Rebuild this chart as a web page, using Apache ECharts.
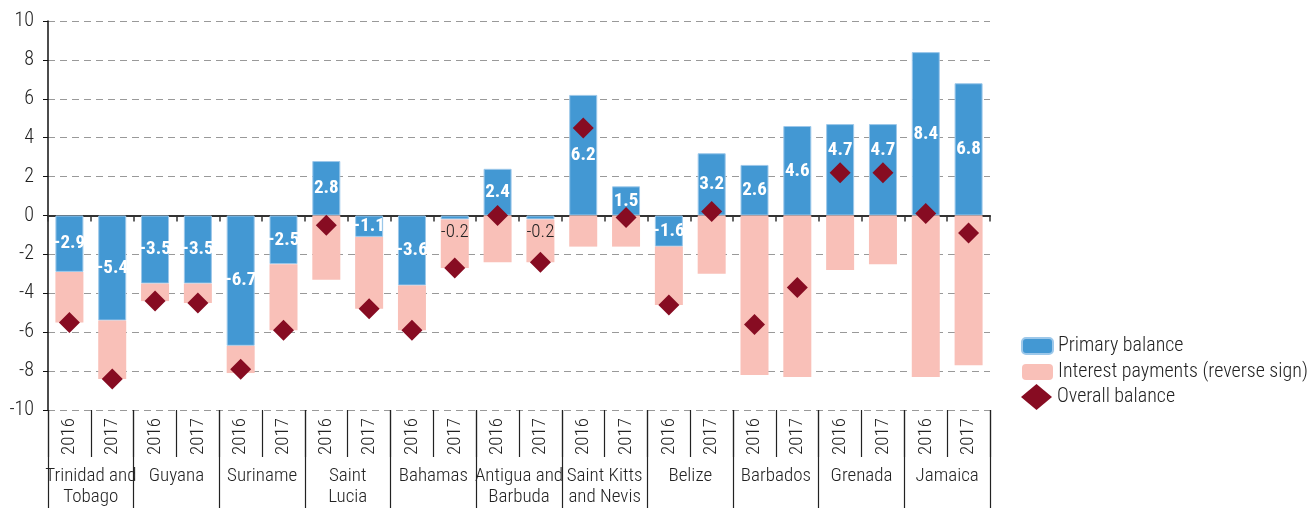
<!DOCTYPE html>
<html>
<head>
<meta charset="utf-8">
<script src="https://cdn.jsdelivr.net/npm/echarts@6/dist/echarts.min.js"></script>
<style>
  html, body { margin: 0; padding: 0; background: #fff; }
  #chart { width: 1314px; height: 508px; }
</style>
</head>
<body>
<div id="chart"></div>
<script>
// 国家和年份
var countries = ['Trinidad and\nTobago', 'Guyana', 'Suriname', 'Saint\nLucia', 'Bahamas',
  'Antigua and\nBarbuda', 'Saint Kitts\nand Nevis', 'Belize', 'Barbados', 'Grenada', 'Jamaica'];
var years = ['2016', '2017'];
// 数据，两年一组
var primaryBalance = [-2.9, -5.4, -3.5, -3.5, -6.7, -2.5, 2.8, -1.1, -3.6, -0.2, 2.4, -0.2,
  6.2, 1.5, -1.6, 3.2, 2.6, 4.6, 4.7, 4.7, 8.4, 6.8];
var interestPayments = [-2.6, -3.0, -0.9, -1.0, -1.4, -3.4, -3.3, -3.7, -2.3, -2.5, -2.4, -2.2,
  -1.6, -1.6, -3.0, -3.0, -8.2, -8.3, -2.8, -2.5, -8.3, -7.7];
var overallBalance = [-5.5, -8.4, -4.4, -4.5, -7.9, -5.9, -0.5, -4.8, -5.9, -2.7, 0.0, -2.4,
  4.5, -0.1, -4.6, 0.2, -5.6, -3.7, 2.2, 2.2, 0.1, -0.9];
var yTicks = { min: -10, max: 10, step: 2 };

var FONT = "'Roboto Condensed', 'Open Sans Condensed', 'DejaVu Sans Condensed', sans-serif";
var names = ['Primary balance', 'Interest payments (reverse sign)', 'Overall balance'];

var yearCats = [];
countries.forEach(function () { years.forEach(function (y) { yearCats.push(y); }); });

var chart = echarts.init(document.getElementById('chart'));

var primaryData = primaryBalance.map(function (v, i) {
  var item = { value: v };
  if (Math.abs(v) < 0.5) {
    // 太短的柱子，标签放到下面
    item.label = { position: 'bottom', color: '#222', fontWeight: 300, distance: 3 };
  } else if (v > 0 && Math.abs(overallBalance[i] - v / 2) < 0.8) {
    // 标签和菱形重叠时往上挪
    item.label = { offset: [0, -20] };
  }
  return item;
});

var txt = { fontFamily: FONT, fontWeight: 300, color: '#222' };

var option = {
  animation: false,
  textStyle: { fontFamily: FONT },
  grid: { left: 48, right: 324, top: 21, bottom: 98, containLabel: false },
  legend: [{
    data: [names[0], names[1]],
    orient: 'vertical',
    left: 1021, top: 336, padding: 0,
    itemWidth: 31, itemHeight: 16, itemGap: 6,
    textStyle: Object.assign({ fontSize: 20 }, txt)
  }, {
    data: [{ name: names[2], icon: 'diamond' }],
    orient: 'vertical',
    left: 1021, top: 384, padding: 0,
    itemWidth: 31, itemHeight: 26,
    textStyle: Object.assign({ fontSize: 20 }, txt)
  }],
  xAxis: [{
    type: 'category',
    data: yearCats,
    position: 'bottom',
    axisLine: { onZero: true, lineStyle: { color: '#333', width: 2 } },
    axisTick: { show: true, length: 6, lineStyle: { color: '#333', width: 1.5 } },
    axisLabel: { show: false },
    splitLine: { show: false }
  }, {
    type: 'category',
    data: yearCats,
    position: 'bottom',
    axisLine: { show: false, onZero: false },
    axisTick: { show: true, length: 47, lineStyle: { color: '#222', width: 1.2 } },
    axisLabel: Object.assign({ rotate: 90, fontSize: 19, margin: 8 }, txt)
  }, {
    type: 'category',
    data: countries,
    position: 'bottom',
    axisLine: { show: false, onZero: false },
    axisTick: { show: true, length: 98, lineStyle: { color: '#222', width: 1.2 } },
    axisLabel: Object.assign({ fontSize: 19, margin: 56, lineHeight: 21, interval: 0 }, txt)
  }],
  yAxis: {
    type: 'value',
    min: yTicks.min, max: yTicks.max, interval: yTicks.step,
    axisLine: { show: true, lineStyle: { color: '#111', width: 1.5 } },
    axisTick: { show: true, length: 5, lineStyle: { color: '#111' } },
    axisLabel: Object.assign({ fontSize: 20, margin: 14 }, txt),
    splitLine: { lineStyle: { color: '#999', type: [7, 5], width: 1.2 } }
  },
  series: [{
    name: names[0],
    type: 'bar',
    stack: 'total',
    barWidth: 28,
    data: primaryData,
    itemStyle: { color: '#4398d3', borderColor: '#9dc8ea', borderWidth: 1 },
    label: {
      show: true, position: 'inside', color: '#fff', fontWeight: 'bold',
      fontSize: 19, fontFamily: FONT,
      formatter: function (p) { return p.value.toFixed(1); }
    }
  }, {
    name: names[1],
    type: 'bar',
    stack: 'total',
    barWidth: 28,
    data: interestPayments,
    itemStyle: { color: '#f9c0b8' }
  }, {
    name: names[2],
    type: 'scatter',
    symbol: 'diamond',
    symbolSize: 21,
    z: 5,
    data: overallBalance,
    itemStyle: { color: '#870c22', opacity: 1 }
  }]
};
chart.setOption(option);
</script>
</body>
</html>
